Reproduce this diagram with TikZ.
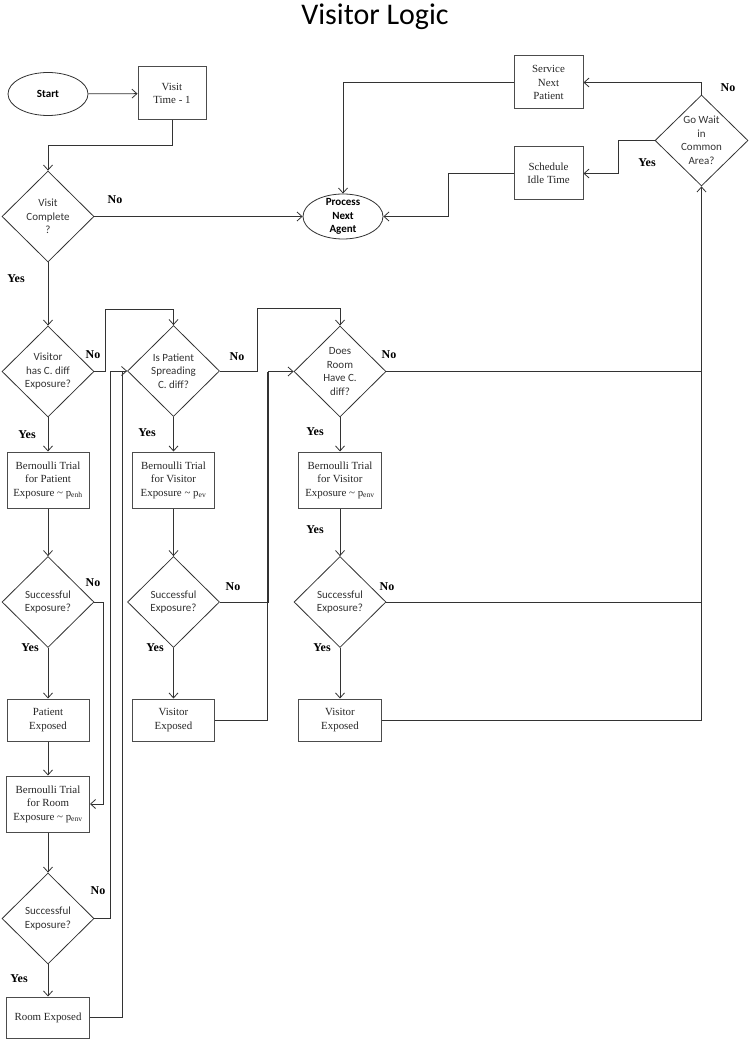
\documentclass[tikz,border=0pt]{standalone}
\usepackage{fontspec}
\setmainfont{Liberation Serif}
\newfontfamily\calfont{Carlito}
\usetikzlibrary{shapes.geometric,arrows.meta}

\begin{document}
\begin{tikzpicture}[x=1pt,y=-1pt,>={Straight Barb[length=5pt,width=9pt]},
  link/.style={draw=black!80,line width=.8pt},
  box/.style={rectangle,draw=black!70,line width=1pt,align=center,inner sep=1pt,
    text=black!85,font=\fontsize{10.9}{13.5}\selectfont},
  trial/.style={box,minimum width=82pt,minimum height=56pt},
  exposed/.style={box,minimum width=82pt,minimum height=42pt},
  ask/.style={diamond,draw=black!80,line width=.8pt,align=center,inner sep=0pt,
    minimum width=92pt,minimum height=91pt,text=black!80,font=\calfont\fontsize{11}{13.5}\selectfont},
  oval/.style={ellipse,draw=black!80,line width=.8pt,align=center,inner xsep=0pt,inner ysep=-3pt,
    minimum width=80pt,font=\calfont\bfseries\fontsize{11}{13.3}\selectfont},
  lbl/.style={font=\bfseries\fontsize{12}{14}\selectfont}]
 \useasboundingbox (0,0) rectangle (750,1040);
 \node[anchor=base,font=\calfont\fontsize{30}{36}\selectfont] (title) at (375,25) {Visitor Logic};

 % top row
 \node[oval,minimum height=43pt] (start) at (48,94) {Start};
 \node[box,minimum width=68pt,minimum height=53pt] (visit) at (172,93.5) {Visit\\Time - 1};
 \node[ask] (done) at (48,216.5) {Visit\\Complete\\?};
 \node[oval,minimum height=45pt] (next) at (343,216.5) {Process\\Next\\Agent};
 \node[box,minimum width=69pt,minimum height=53pt] (serve) at (548.5,82.5) {Service\\Next\\Patient};
 \node[box,minimum width=69pt,minimum height=53pt] (idle) at (548.5,173.5) {Schedule\\Idle Time};
 \node[ask,minimum width=93pt] (wait) at (701.5,140.5) {Go Wait\\in\\Common\\Area?};

 % exposure checks
 \node[ask] (vis) at (48,371.5) {Visitor\\has C. diff\\Exposure?};
 \node[ask] (pat) at (173.5,371) {Is Patient\\Spreading\\C. diff?};
 \node[ask] (room) at (340,371.5) {Does\\Room\\Have C.\\diff?};
 \node[trial] (btp) at (48,480) {Bernoulli Trial\\for Patient\\Exposure \textasciitilde{} p\textsubscript{enh}};
 \node[trial] (btv) at (173.5,480) {Bernoulli Trial\\for Visitor\\Exposure \textasciitilde{} p\textsubscript{ev}};
 \node[trial,minimum width=83pt] (bte) at (340,480) {Bernoulli Trial\\for Visitor\\Exposure \textasciitilde{} p\textsubscript{env}};
 \node[ask] (sep) at (48,602) {Successful\\Exposure?};
 \node[ask] (sev) at (173.5,602) {Successful\\Exposure?};
 \node[ask] (see) at (340,602) {Successful\\Exposure?};
 \node[exposed] (pex) at (48,720) {Patient\\Exposed};
 \node[exposed] (vexa) at (173.5,720) {Visitor\\Exposed};
 \node[exposed,minimum width=83pt] (vexb) at (340,720) {Visitor\\Exposed};
 \node[trial,minimum width=83pt] (btr) at (48,804) {Bernoulli Trial\\for Room\\Exposure \textasciitilde{} p\textsubscript{env}};
 \node[ask] (ser) at (48,918.5) {Successful\\Exposure?};
 \node[exposed,minimum width=83pt,minimum height=41pt] (rex) at (48,1017.5) {Room Exposed};

 % connectors
 \draw[link,->] (start) -- (visit);
 \draw[link,->] (visit.south) -- ++(0,25) -| (done.north);
 \draw[link,->] (done) -- (next);
 \draw[link,->] (done) -- (vis);
 \draw[link,->] (serve.west) -| (next.north);
 \draw[link,->] (idle.west) -- ++(-65,0) |- (next.east);
 \draw[link,->] (wait.north) |- (serve.east);
 \draw[link,->] (wait.west) -- ++(-36,0) |- (idle.east);
 \draw[link,->] (vexb.east) -| (wait.south);
 \draw[link] (room.east) -- (room.east -| wait.south);
 \draw[link] (see.east) -- (see.east -| wait.south);
 \draw[link,->] (vis.east) -- ++(11,0) |- ([yshift=16pt]pat.north) -- (pat.north);
 \draw[link,->] (pat.east) -- ++(37,0) |- ([yshift=17pt]room.north) -- (room.north);
 \draw[link,->] (vis) -- (btp);
 \draw[link,->] (pat) -- (btv);
 \draw[link,->] (room) -- (bte);
 \draw[link,->] (btp) -- (sep);
 \draw[link,->] (btv) -- (sev);
 \draw[link,->] (bte) -- (see);
 \draw[link,->] (sep) -- (pex);
 \draw[link,->] (sev) -- (vexa);
 \draw[link,->] (see) -- (vexb);
 \draw[link,->] (pex) -- (btr);
 \draw[link,->] (btr) -- (ser);
 \draw[link,->] (ser) -- (rex);
 \draw[link,->] (sep.east) -- ++(9,0) |- (btr.east);
 \draw[link,->] (ser.east) -- ++(16,0) |- (pat.west);
 \draw[link] (rex.east) -| ([xshift=-5pt]pat.west);
 \draw[link,->] (sev.east) -- ++(48,0) |- (room.west);
 \draw[link] (vexa.east) -| ([xshift=-26pt]room.west);

 % yes / no
 \node[lbl] (no1) at (115,200) {No};
 \node[lbl] (yes1) at (16,279) {Yes};
 \node[lbl] (no2) at (728,88) {No};
 \node[lbl] (yes2) at (647,163) {Yes};
 \node[lbl] (no3) at (93,355) {No};
 \node[lbl] (no4) at (237,357) {No};
 \node[lbl] (no5) at (389,355) {No};
 \node[lbl] (yes3) at (27,435) {Yes};
 \node[lbl] (yes4) at (147,433) {Yes};
 \node[lbl] (yes5) at (315,432) {Yes};
 \node[lbl] (yes6) at (315,530) {Yes};
 \node[lbl] (no6) at (93,583) {No};
 \node[lbl] (no7) at (233,587) {No};
 \node[lbl] (no8) at (387,587) {No};
 \node[lbl] (yes7) at (30,648) {Yes};
 \node[lbl] (yes8) at (155,648) {Yes};
 \node[lbl] (yes9) at (322,648) {Yes};
 \node[lbl] (no9) at (98,891) {No};
 \node[lbl] (yes10) at (19,979) {Yes};
\end{tikzpicture}
\end{document}
